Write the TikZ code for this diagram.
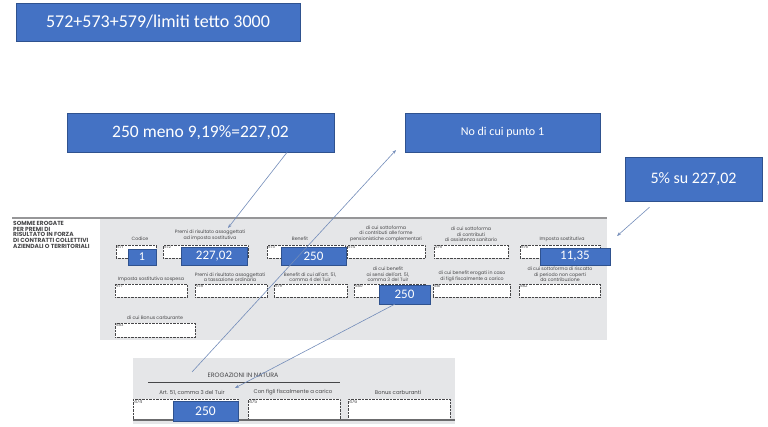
\documentclass[tikz,border=0pt]{standalone}
\usepackage{fontspec}
\setmainfont{Carlito}
\newfontfamily\formfont{Poppins}
\usetikzlibrary{arrows.meta,positioning,calc}
\definecolor{boxBlue}{RGB}{68,114,196}
\definecolor{boxEdge}{RGB}{47,82,143}
\definecolor{formGray}{RGB}{229,230,232}
\definecolor{ruleGray}{RGB}{150,150,152}
\definecolor{inkGray}{RGB}{70,70,72}
\definecolor{lineBlue}{RGB}{115,140,185}

\begin{document}
\begin{tikzpicture}[x=1pt,y=-1pt,
  blu/.style={rectangle,draw=boxEdge,fill=boxBlue,text=white,inner sep=0pt,align=center},
  fld/.style={rectangle,draw=inkGray,densely dotted,fill=white,inner sep=0pt,anchor=north west},
  num/.style={font=\formfont\fontsize{4}{4.5}\selectfont,text=inkGray,anchor=north west,inner sep=0.8pt},
  lbl/.style={font=\formfont\fontsize{4.7}{5.6}\selectfont,text=inkGray,align=center,anchor=south,inner sep=0pt},
  arr/.style={-{Stealth[length=4pt,width=3pt]},draw=lineBlue,line width=0.6pt}
]
  \useasboundingbox (0,0) rectangle (768,427);

  \node[blu,minimum width=284,minimum height=38,font=\fontsize{18}{20}\selectfont](tetto) at (158,22) {572+573+579/limiti tetto 3000};
  \node[blu,minimum width=267,minimum height=39,font=\fontsize{17.5}{20}\selectfont](meno) at (200.5,132.5) {250 meno 9,19\%=227,02};
  \node[blu,minimum width=195,minimum height=39,font=\fontsize{12}{14}\selectfont](nodi) at (502.5,132.5) {No di cui punto 1};
  \node[blu,minimum width=137,minimum height=44,font=\fontsize{16}{18}\selectfont](cinque) at (693.5,179) {5\% su 227,02};

  \fill[formGray] (100,219) rectangle (607,340);
  \draw[ruleGray,line width=1.5pt] (12,218) -- (607,218);
  \node[anchor=north west,inner sep=0pt,align=left,text=inkGray,
        font=\formfont\bfseries\fontsize{5.9}{5.7}\selectfont](somme) at (13,221)
        {SOMME EROGATE\\PER PREMI DI\\RISULTATO IN FORZA\\DI CONTRATTI COLLETTIVI\\AZIENDALI O TERRITORIALI};

  \node[fld,minimum width=40,minimum height=13](f571) at (116,245) {};
  \node[fld,minimum width=85,minimum height=13](f572) at (163,245) {};
  \node[fld,minimum width=78,minimum height=13](f573) at (267,245) {};
  \node[fld,minimum width=78,minimum height=13](f574) at (347,245) {};
  \node[fld,minimum width=74,minimum height=13](f575) at (434,245) {};
  \node[fld,minimum width=80,minimum height=13](f576) at (520,245) {};
  \node[fld,minimum width=72,minimum height=13](f577) at (115,284) {};
  \node[fld,minimum width=72,minimum height=13](f578) at (195,284) {};
  \node[fld,minimum width=73,minimum height=13](f579) at (274,284) {};
  \node[fld,minimum width=72,minimum height=13](f580) at (354,284) {};
  \node[fld,minimum width=77,minimum height=13](f581) at (433,284) {};
  \node[fld,minimum width=81,minimum height=13](f582) at (519,284) {};
  \node[fld,minimum width=80,minimum height=14](f583) at (115,323) {};
  \foreach \f in {571,572,573,574,575,576,577,578,579,580,581,582,583}
    \node[num] at (f\f.north west) {\f};

  \node[lbl](lcod) at (140,241) {Codice};
  \node[lbl](l572) at (210,241) {Premi di risultato assoggettati\\ad imposta sostitutiva};
  \node[lbl](l573) at (300,241) {Benefit};
  \node[lbl](l574) at (386,242) {di cui sottoforma\\di contributi alle forme\\pensionistiche complementari};
  \node[lbl](l575) at (471,242) {di cui sottoforma\\di contributi\\di assistenza sanitario};
  \node[lbl](l576) at (562,242) {Imposta sostitutiva};
  \node[lbl](l577) at (151,282) {Imposta sostitutiva sospesa};
  \node[lbl](l578) at (230,282) {Premi di risultato assoggettati\\a tassazione ordinaria};
  \node[lbl](l579) at (310,282) {Benefit di cui all'art. 51,\\comma 4 del Tuir};
  \node[lbl](l580) at (388,282) {di cui benefit\\ai sensi dell'art. 51,\\comma 3 del Tuir};
  \node[lbl](l581) at (472,282) {di cui benefit erogati in caso\\di figli fiscalmente a carico};
  \node[lbl](l582) at (560,282) {di cui sottoforma di riscatto\\di periodo non coperti\\da contribuzione};
  \node[lbl](l583) at (155,320) {di cui Bonus carburante};

  \node[blu,minimum width=28,minimum height=16,font=\fontsize{12}{14}\selectfont](uno) at (142,257) {1};
  \node[blu,minimum width=66,minimum height=18,font=\fontsize{13}{15}\selectfont](premio) at (214,256) {227,02};
  \node[blu,minimum width=65,minimum height=18,font=\fontsize{13}{15}\selectfont](benA) at (313.5,256) {250};
  \node[blu,minimum width=70,minimum height=17,font=\fontsize{13}{15}\selectfont](imposta) at (575,256.5) {11,35};
  \node[blu,minimum width=51,minimum height=19,font=\fontsize{13}{15}\selectfont](benB) at (404.5,294.5) {250};

  \fill[formGray] (133,358) rectangle (455,424);
  \node[font=\formfont\fontsize{6.3}{7}\selectfont,text=inkGray,inner sep=0pt](natura) at (243,375) {EROGAZIONI IN NATURA};
  \draw[inkGray,line width=0.7pt] (148,382) -- (340,382);
  \node[lbl,font=\formfont\fontsize{5.4}{6}\selectfont](l474) at (192,395) {Art. 51, comma 3 del Tuir};
  \node[lbl,font=\formfont\fontsize{5.4}{6}\selectfont](l475) at (293,395) {Con figli fiscalmente a carico};
  \node[lbl,font=\formfont\fontsize{5.4}{6}\selectfont](l476) at (398,395) {Bonus carburanti};
  \node[fld,minimum width=105,minimum height=20](f474) at (133,399) {};
  \node[fld,minimum width=92,minimum height=20](f475) at (248,399) {};
  \node[fld,minimum width=102,minimum height=20](f476) at (348,399) {};
  \foreach \f in {474,475,476}
    \node[num,font=\formfont\fontsize{4.6}{5}\selectfont] at (f\f.north west) {\f};
  \draw[inkGray!80,line width=1.3pt] (133,420) -- (455,420);
  \node[blu,minimum width=65,minimum height=20,font=\fontsize{13.5}{15}\selectfont](benC) at (205.5,411) {250};

  \coordinate (tip1) at (228,228);
  \coordinate (tail2) at (192,372);
  \coordinate (tip2) at (396,150);
  \coordinate (tip3) at (235,388);
  \coordinate (tip4) at (617,236);
  \draw[arr] ($(meno.south west)!0.824!(meno.south east)$) -- (tip1);
  \draw[arr] (tail2) -- (tip2);
  \draw[arr] ($(benB.south west)!0.31!(benB.south east)$) -- (tip3);
  \draw[arr] ($(cinque.south west)!0.18!(cinque.south east)+(0,6)$) -- (tip4);
\end{tikzpicture}
\end{document}
